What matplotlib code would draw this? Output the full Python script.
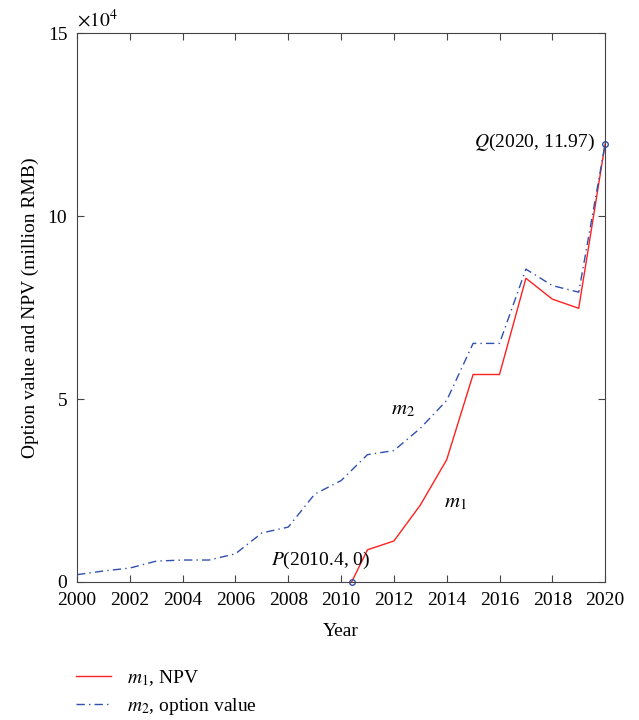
import matplotlib.pyplot as plt
import numpy as np

plt.rcParams["font.family"] = ["Liberation Serif", "DejaVu Serif"]
plt.rcParams["mathtext.fontset"] = "stix"

years_m2 = [2000, 2001, 2002, 2003, 2004, 2005, 2006, 2007, 2008, 2009, 2010,
            2011, 2012, 2013, 2014, 2015, 2016, 2017, 2018, 2019, 2020]
option_value = [0.2, 0.3, 0.38, 0.57, 0.6, 0.6, 0.77, 1.34, 1.5, 2.4, 2.77,
                3.48, 3.59, 4.2, 4.96, 6.52, 6.52, 8.55, 8.1, 7.92, 11.97]

years_m1 = [2010.4, 2011, 2012, 2013, 2014, 2015, 2016, 2017, 2018, 2019, 2020]
npv = [0.0, 0.88, 1.12, 2.1, 3.34, 5.67, 5.67, 8.3, 7.73, 7.48, 11.97]

fig = plt.figure(figsize=(6.39, 7.2), dpi=100)
ax = fig.add_axes([0.1205, 0.1917, 0.8265, 0.7623])

ax.plot(years_m1, npv, color="#ff2020", lw=1.0, label=r"$m_1$, NPV")
ax.plot(years_m2, option_value, color="#3050b0", lw=1.0, ls=(0, (6, 3, 1, 3)),
        label=r"$m_2$, option value")
ax.plot([2010.4, 2020], [0, 11.97], ls="none", marker="o", ms=4,
        mfc="none", mec="#3050b0", mew=1.0, clip_on=False)

ax.set_xlim(2000, 2020)
ax.set_ylim(0, 15)
ax.set_xticks(np.arange(2000, 2021, 2))
ax.set_yticks([0, 5, 10, 15])
ax.tick_params(direction="in", top=True, right=True, labelsize=14, length=5,
               color="#444444")
ax.tick_params(axis="x", pad=7)
ax.tick_params(axis="y", pad=7)
for s in ax.spines.values():
    s.set_color("#444444")

ax.text(0.0, 1.005, r"$\times10^4$", transform=ax.transAxes, fontsize=14,
        ha="left", va="bottom")
ax.set_xlabel("Year", fontsize=14, labelpad=10)
ax.set_ylabel("Option value and NPV (million RMB)", fontsize=14, labelpad=6)

ax.text(2019.6, 12.0, r"$Q$(2020, 11.97)", fontsize=14, ha="right", va="center")
ax.text(2011.1, 0.6, r"$P$(2010.4, 0)", fontsize=14, ha="right", va="center")
ax.text(2012.35, 4.7, r"$m_2$", fontsize=15, ha="center", va="center")
ax.text(2014.32, 2.16, r"$m_1$", fontsize=15, ha="center", va="center")

fig.legend(loc="lower left", bbox_to_anchor=(0.092, -0.02), frameon=False,
           fontsize=14, handlelength=1.8, labelspacing=0.4)

fig.savefig("out.png", dpi=100)
